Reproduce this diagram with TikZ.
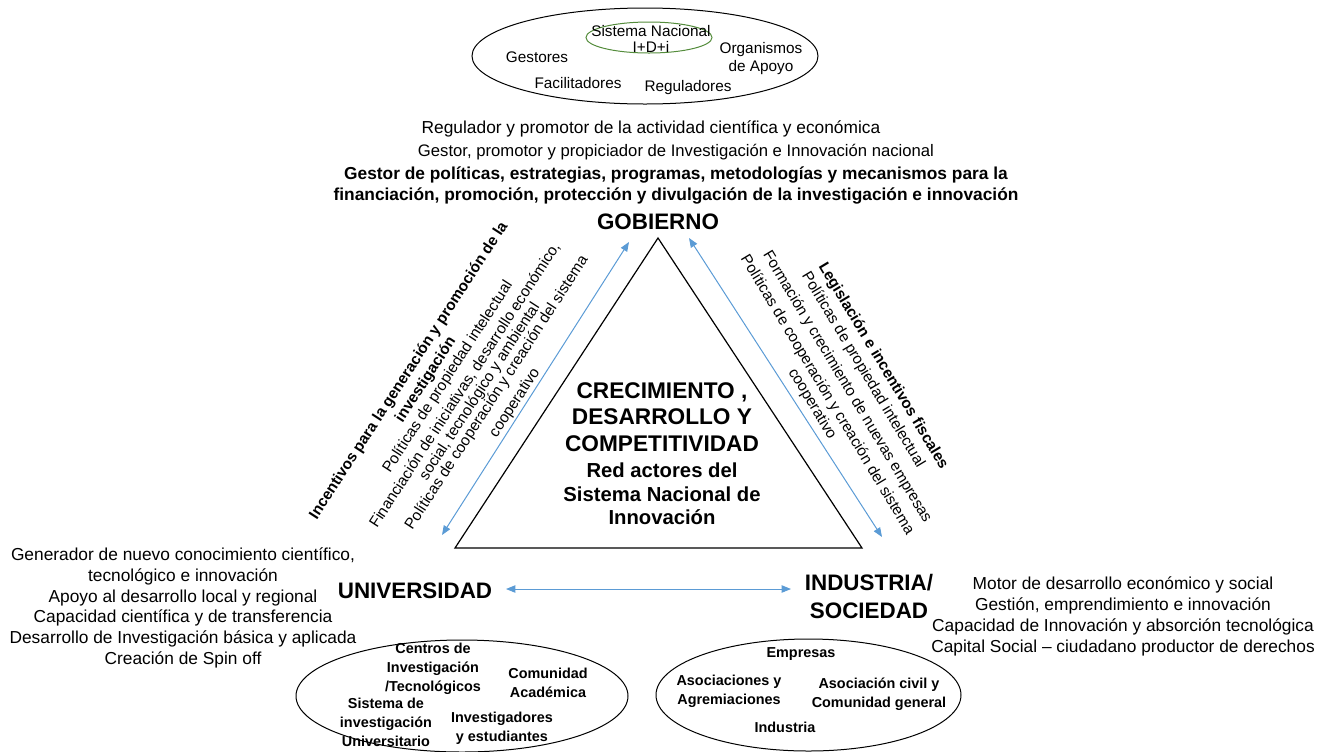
\documentclass[tikz,border=0pt]{standalone}
\usepackage{fontspec}
\setmainfont{Liberation Sans}
\usetikzlibrary{arrows.meta,shapes.geometric}
\definecolor{arrowblue}{RGB}{91,155,213}
\definecolor{ellgreen}{RGB}{84,140,60}
\begin{document}
\begin{tikzpicture}[x=0.75pt,y=-0.75pt,
  every node/.style={inner sep=0pt,align=center},
  ell/.style={draw,ellipse,line width=0.75pt},
  sm/.style={font=\fontsize{11.5}{13.5}\selectfont},
  txt/.style={font=\fontsize{13}{15.6}\selectfont},
  btxt/.style={font=\bfseries\fontsize{13}{15.6}\selectfont},
  big/.style={font=\bfseries\fontsize{16.8}{21}\selectfont},
  ctr/.style={font=\bfseries\fontsize{17}{20}\selectfont},
  ctrs/.style={font=\bfseries\fontsize{15.2}{17.6}\selectfont},
  ebold/.style={font=\bfseries\fontsize{10.8}{14.25}\selectfont},
  rl/.style={font=\fontsize{11.5}{13}\selectfont,rotate=57},
  rlb/.style={font=\bfseries\fontsize{11.5}{13}\selectfont,rotate=57},
  rr/.style={font=\fontsize{11.5}{13}\selectfont,rotate=-59},
  rrb/.style={font=\bfseries\fontsize{11.5}{13}\selectfont,rotate=-59},
  barrow/.style={draw=arrowblue,line width=0.75pt,{Triangle[length=7pt,width=5.5pt]}-{Triangle[length=7pt,width=5.5pt]}}
]
\useasboundingbox (0,0) rectangle (1325,751);

% top ellipse
\node[ell,minimum width=259.5pt,minimum height=72pt] (gov) at (645,56) {};
\node[ell,draw=ellgreen,minimum width=94.5pt,minimum height=23.25pt] (sni) at (649,37.5) {};
\node[sm] (sn1) at (651,31) {Sistema Nacional};
\node[sm] (sn2) at (651,47) {I+D+i};
\node[sm] (gest) at (537,57) {Gestores};
\node[sm] (orga) at (761,59) {Organismos\\de Apoyo};
\node[sm] (faci) at (578,83) {Facilitadores};
\node[sm] (regu) at (688,88) {Reguladores};

% government text
\node[txt] (g1) at (651,129) {Regulador y promotor de la actividad científica y económica};
\node[txt,font=\fontsize{12.5}{15}\selectfont] (g2) at (676,152) {Gestor, promotor y propiciador de Investigación e Innovación nacional};
\node[btxt] (g3) at (676,175) {Gestor de políticas, estrategias, programas, metodologías y mecanismos para la};
\node[btxt] (g4) at (676,196) {financiación, promoción, protección y divulgación de la investigación e innovación};
\node[big] (gobierno) at (658,222) {GOBIERNO};

% triangle
\coordinate (apex) at (658,238);
\coordinate (bl) at (455,548);
\coordinate (br) at (862,548);
\draw[line width=0.9pt] (apex) -- (bl) -- (br) -- cycle;
\node[ctr] (c1) at (662,417) {CRECIMIENTO ,\\DESARROLLO Y\\COMPETITIVIDAD};
\node[ctrs] (c2) at (662,494) {Red actores del\\Sistema Nacional de\\Innovación};

% side arrows
\coordinate (la1) at (442,535);
\coordinate (la2) at (629,242);
\draw[barrow] (la1) -- (la2);
\coordinate (ra1) at (689,238);
\coordinate (ra2) at (882,537);
\draw[barrow] (ra1) -- (ra2);

% left rotated text
\node[rlb] (l1) at (409,371) {Incentivos para la generación y promoción de la};
\node[rlb] (l2) at (426,380) {investigación};
\node[rl] (l3) at (448,377) {Políticas de propiedad intelectual};
\node[rl] (l4) at (465,385) {Financiación de iniciativas, desarrollo económico,};
\node[rl] (l5) at (480,392) {social, tecnológico y ambiental};
\node[rl] (l6) at (497,393) {Políticas de cooperación y creación del sistema};
\node[rl] (l7) at (515,403) {cooperativo};

% right rotated text
\node[rrb] (r1) at (883,366) {Legislación e incentivos fiscales};
\node[rr] (r2) at (863,370) {Políticas de propiedad intelectual};
\node[rr] (r3) at (847,387) {Formación y crecimiento de nuevas empresas};
\node[rr] (r4) at (827,395) {Políticas de cooperación y creación del sistema};
\node[rr] (r5) at (812,404) {cooperativo};

% university / industry
\node[big] (univ) at (415,591) {UNIVERSIDAD};
\node[big] (ind) at (869,596) {INDUSTRIA/\\SOCIEDAD};
\coordinate (ha1) at (506,589);
\coordinate (ha2) at (791,589);
\draw[barrow] (ha1) -- (ha2);

\node[txt,font=\fontsize{13}{15.6}\selectfont] (utext) at (183,608) {Generador de nuevo conocimiento científico,\\tecnológico e innovación\\Apoyo al desarrollo local y regional\\Capacidad científica y de transferencia\\Desarrollo de Investigación básica y aplicada\\Creación de Spin off};
\node[txt,font=\fontsize{13}{15.75}\selectfont] (itext) at (1123,616) {Motor de desarrollo económico y social\\Gestión, emprendimiento e innovación\\Capacidad de Innovación y absorción tecnológica\\Capital Social – ciudadano productor de derechos};

% bottom-left ellipse
\node[ell,minimum width=249pt,minimum height=84pt] (uell) at (462,696) {};
\node[ebold] (u1) at (433,669) {Centros de\\Investigación\\/Tecnológicos};
\node[ebold] (u2) at (548,683) {Comunidad\\Académica};
\node[ebold] (u3) at (386,722) {Sistema de\\investigación\\Universitario};
\node[ebold] (u4) at (502,728) {Investigadores\\y estudiantes};

% bottom-right ellipse
\node[ell,minimum width=228.75pt,minimum height=84pt] (iell) at (808.5,695) {};
\node[ebold] (i1) at (801,654) {Empresas};
\node[ebold] (i2) at (729,691) {Asociaciones y\\Agremiaciones};
\node[ebold] (i3) at (879,694) {Asociación civil y\\Comunidad general};
\node[ebold] (i4) at (785,727) {Industria};
\end{tikzpicture}
\end{document}
